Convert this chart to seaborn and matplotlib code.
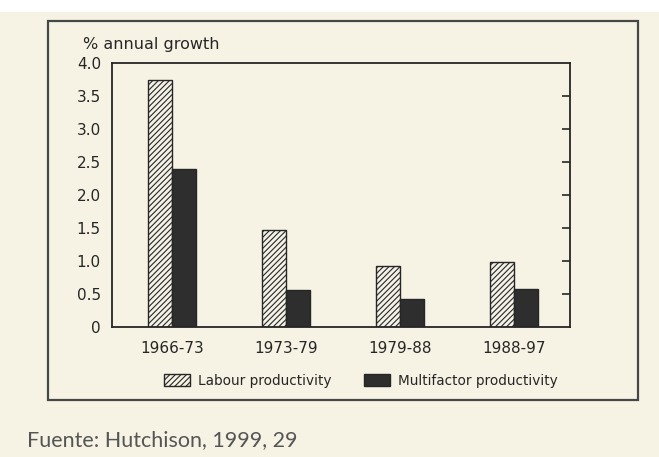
import pandas as pd
import matplotlib.pyplot as plt
import seaborn as sns
from matplotlib.patches import Patch, Rectangle

# Datos
periodos = ['1966-73', '1973-79', '1979-88', '1988-97']
series = ['Labour productivity', 'Multifactor productivity']
labour = [3.75, 1.47, 0.93, 0.98]
multifactor = [2.40, 0.56, 0.42, 0.58]
yticks = [0, 0.5, 1.0, 1.5, 2.0, 2.5, 3.0, 3.5, 4.0]
ytick_labels = ['0', '0.5', '1.0', '1.5', '2.0', '2.5', '3.0', '3.5', '4.0']

df = pd.DataFrame({
    'periodo': periodos * 2,
    'serie': [series[0]] * 4 + [series[1]] * 4,
    'valor': labour + multifactor,
})

sns.set_style('white')
plt.rcParams['font.family'] = ['DejaVu Sans']
plt.rcParams['hatch.linewidth'] = 0.8

papel = '#f6f3e5'
tinta = '#262626'

fig = plt.figure(figsize=(6.59, 4.57), dpi=100, facecolor=papel)
ax = fig.add_axes([0.170, 0.284, 0.695, 0.578])
ax.set_facecolor(papel)

sns.barplot(data=df, x='periodo', y='valor', hue='serie', order=periodos,
            hue_order=series, palette=[papel, '#2e2e2e'], width=0.42,
            edgecolor=tinta, linewidth=1.0, legend=False, ax=ax)

# Rayado para la productividad del trabajo
for bar in ax.patches[:4]:
    bar.set_hatch('//////')
    bar.set_edgecolor(tinta)

ax.set_xlim(-0.53, 3.49)
ax.set_ylim(0, 4.0)
ax.set_yticks(yticks)
ax.set_yticklabels(ytick_labels)
ax.set_xlabel('')
ax.set_ylabel('')
ax.tick_params(axis='y', direction='out', length=5, width=1.2, color=tinta,
               labelsize=11, labelcolor=tinta, pad=3, right=False)
ax.tick_params(axis='x', length=0, labelsize=11, labelcolor=tinta, pad=10)
# Marcas del lado derecho hacia dentro
ax2 = ax.secondary_yaxis('right')
ax2.set_yticks(yticks[1:-1])
ax2.tick_params(direction='in', length=6, width=1.2, color=tinta, labelright=False)
ax2.spines['right'].set_visible(False)

for s in ax.spines.values():
    s.set_color(tinta)
    s.set_linewidth(1.3)
    s.set_visible(True)

fig.text(83 / 659, 1 - 45 / 457, '% annual growth', fontsize=11.5,
         color=tinta, va='center', ha='left')

handles = [Patch(facecolor=papel, edgecolor=tinta, hatch='//////'),
           Patch(facecolor='#2e2e2e', edgecolor=tinta)]
fig.legend(handles, series, loc='center left', ncol=2, frameon=False,
           bbox_to_anchor=(152 / 659, 1 - 381 / 457), fontsize=9.8,
           labelcolor=tinta, handlelength=1.9, handleheight=1.0,
           columnspacing=2.4, handletextpad=0.6)

# Recuadro exterior
fig.patches.append(Rectangle((48 / 659, 1 - 400 / 457), 590 / 659, 379 / 457,
                             transform=fig.transFigure, fill=False,
                             edgecolor='#474747', linewidth=1.6))
fig.patches.append(Rectangle((0, 1 - 12 / 457), 1, 12 / 457,
                             transform=fig.transFigure, facecolor='white',
                             edgecolor='none'))

fig.text(27 / 659, 1 - 440 / 457, 'Fuente: Hutchison, 1999, 29',
         fontsize=15.5, color='#555555', va='center', ha='left',
         family=['Lato', 'DejaVu Sans'])

fig.savefig('out.png', dpi=100, facecolor=papel)
